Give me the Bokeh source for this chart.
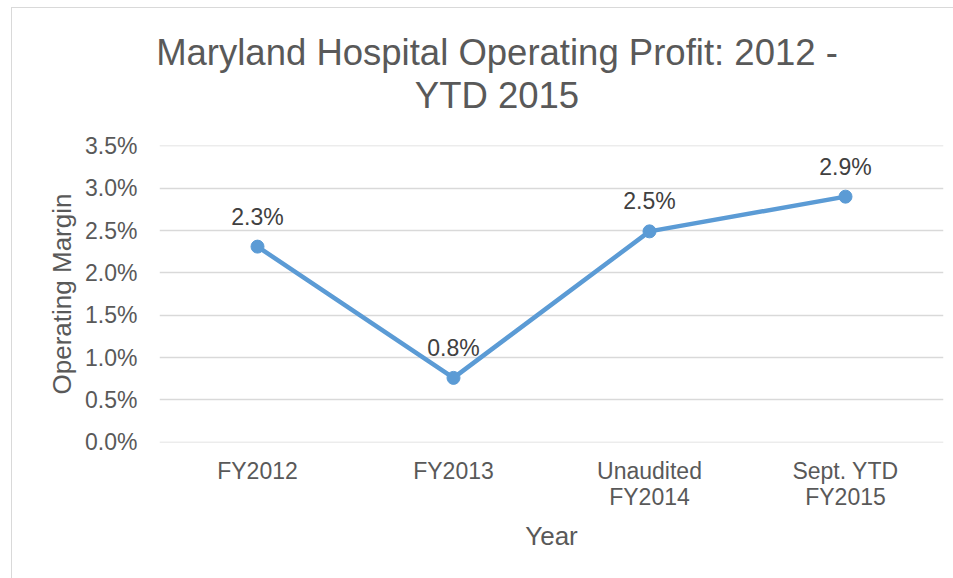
from bokeh.plotting import figure
from bokeh.models import FactorRange, FixedTicker, NumeralTickFormatter, ColumnDataSource, Div
from bokeh.layouts import column
from bokeh.core.properties import value
from bokeh.embed import file_html
from bokeh.resources import INLINE

categories = ["FY2012", "FY2013", "Unaudited\nFY2014", "Sept. YTD\nFY2015"]
margins = [0.0231, 0.0076, 0.0249, 0.0290]
margin_labels = ["2.3%", "0.8%", "2.5%", "2.9%"]
y_ticks = [0.0, 0.005, 0.010, 0.015, 0.020, 0.025, 0.030, 0.035]
title_lines = ["Maryland Hospital Operating Profit: 2012 -", "YTD 2015"]

FONT = "Liberation Sans"
GREY = "#595959"
BLUE = "#5B9BD5"

title = Div(text="<br>".join(title_lines), width=941, height=108,
            styles={"font-family": FONT, "font-size": "36.5px", "color": GREY,
                    "text-align": "center", "line-height": "43px", "padding-top": "18px",
                    "padding-left": "19px", "box-sizing": "border-box"})

p = figure(width=941, height=460, x_range=FactorRange(*categories), y_range=(-0.00003, 0.03504),
           output_backend="svg", toolbar_location=None,
           min_border_left=147, min_border_right=10, min_border_top=19, min_border_bottom=144)
p.outline_line_color = None
p.background_fill_color = "white"
p.border_fill_color = "white"

src = ColumnDataSource(dict(x=categories, y=margins, lab=margin_labels))
p.line("x", "y", source=src, line_color=BLUE, line_width=4.5)
p.scatter("x", "y", source=src, size=13, fill_color=BLUE, line_color=BLUE)
p.text("x", "y", text="lab", source=src, y_offset=-30, text_align="center", text_baseline="middle",
       text_font=value(FONT), text_font_size="23px", text_color="#404040")

p.yaxis.ticker = FixedTicker(ticks=y_ticks)
p.yaxis.formatter = NumeralTickFormatter(format="0.0%")
for ax in (p.xaxis[0], p.yaxis[0]):
    ax.axis_line_color = None
    ax.major_tick_line_color = None
    ax.minor_tick_line_color = None
    ax.major_label_text_font = FONT
    ax.major_label_text_font_size = "23px"
    ax.major_label_text_color = GREY
    ax.axis_label_text_font = FONT
    ax.axis_label_text_font_size = "26px"
    ax.axis_label_text_color = GREY
    ax.axis_label_text_font_style = "normal"

p.yaxis.axis_label = "Operating Margin"
p.yaxis.major_label_standoff = 16
p.yaxis.axis_label_standoff = 5
p.xaxis.axis_label = "Year"
p.xaxis.major_label_standoff = 9
p.xaxis.major_label_text_line_height = 1.0
p.xaxis.axis_label_standoff = 8

p.xgrid.grid_line_color = None
p.ygrid.grid_line_color = "#d9d9d9"
p.ygrid.grid_line_width = 1.3

layout = column(title, p, margin=(7, 0, 0, 11),
                styles={"border-left": "1px solid #d9d9d9", "border-top": "1px solid #d9d9d9"})

open("out.html", "w").write(file_html(layout, INLINE))
